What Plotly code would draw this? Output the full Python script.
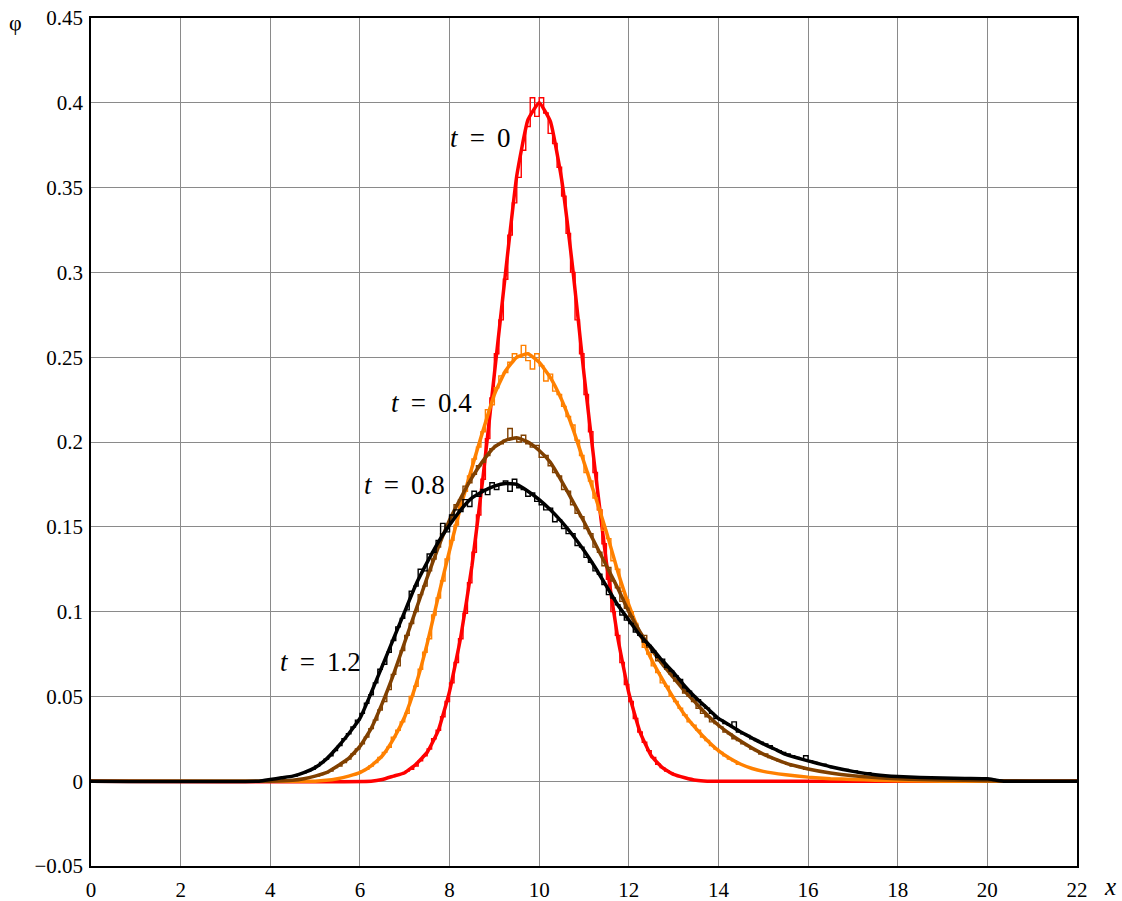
import plotly.graph_objects as go

# ---------------- smooth curves ----------------
red_x = [0, 6.25, 6.5, 6.75, 7.0, 7.25, 7.5, 7.75, 8.0, 8.25, 8.5, 8.75, 9.0, 9.25, 9.5, 9.75, 10.0,
         10.25, 10.5, 10.75, 11.0, 11.25, 11.5, 11.75, 12.0, 12.25, 12.5, 12.75, 13.0, 13.25, 13.5, 13.75, 22]
red_y = [0, 0.0, 0.001, 0.003, 0.005, 0.010, 0.017, 0.030, 0.053, 0.085, 0.127, 0.180, 0.240, 0.300, 0.357, 0.390, 0.400,
         0.389, 0.355, 0.302, 0.240, 0.183, 0.129, 0.085, 0.052, 0.029, 0.015, 0.008, 0.004, 0.002, 0.0005, 0.0, 0]

orange_x = [0, 5.0, 5.25, 5.5, 5.75, 6.0, 6.25, 6.5, 6.75, 7.0, 7.25, 7.5, 7.75, 8.0, 8.25, 8.5, 8.75, 9.0, 9.25,
            9.5, 9.75, 10.0, 10.25, 10.5, 10.75, 11.0, 11.25, 11.5, 11.75, 12.0, 12.25, 12.5, 12.75, 13.0, 13.25,
            13.5, 13.75, 14.0, 14.25, 14.5, 14.75, 15.0, 15.5, 16.0, 16.5, 17.0, 17.5, 18.0, 19.0, 22]
orange_y = [0, 0.0, 0.0005, 0.0015, 0.003, 0.005, 0.009, 0.015, 0.025, 0.038, 0.057, 0.081, 0.109, 0.136, 0.162, 0.185,
            0.207, 0.228, 0.242, 0.250, 0.252, 0.247, 0.238, 0.225, 0.208, 0.188, 0.168, 0.147, 0.124, 0.104, 0.087,
            0.072, 0.060, 0.049, 0.039, 0.031, 0.024, 0.018, 0.0135, 0.010, 0.0075, 0.0058, 0.0038, 0.0024, 0.0015,
            0.001, 0.0006, 0.0003, 0.0, 0]

brown_x = [0, 4.0, 4.5, 4.75, 5.0, 5.25, 5.5, 5.75, 6.0, 6.25, 6.5, 6.75, 7.0, 7.25, 7.5, 7.75, 8.0, 8.25, 8.5, 8.75,
           9.0, 9.25, 9.5, 9.75, 10.0, 10.25, 10.5, 10.75, 11.0, 11.25, 11.5, 11.75, 12.0, 12.25, 12.5, 12.75, 13.0,
           13.25, 13.5, 13.75, 14.0, 14.25, 14.5, 14.75, 15.0, 15.25, 15.5, 15.75, 16.0, 16.5, 17.0, 17.5, 18.0,
           18.5, 19.0, 20.0, 21.0, 22]
brown_y = [0, 0.0, 0.0006, 0.0015, 0.003, 0.005, 0.009, 0.0135, 0.0205, 0.031, 0.046, 0.063, 0.082, 0.101, 0.120, 0.138,
           0.154, 0.167, 0.179, 0.189, 0.197, 0.201, 0.2025, 0.200, 0.195, 0.188, 0.177, 0.165, 0.153, 0.140, 0.127,
           0.114, 0.100, 0.088, 0.078, 0.069, 0.061, 0.053, 0.046, 0.039, 0.033, 0.028, 0.0235, 0.0195, 0.016, 0.0132,
           0.0107, 0.0088, 0.0072, 0.0048, 0.0032, 0.0022, 0.0014, 0.001, 0.0007, 0.0003, 0.0, 0]

black_x = [0, 3.75, 4.0, 4.25, 4.5, 4.75, 5.0, 5.25, 5.5, 5.75, 6.0, 6.25, 6.5, 6.75, 7.0, 7.25, 7.5, 7.75, 8.0,
           8.25, 8.5, 8.75, 9.0, 9.25, 9.5, 9.75, 10.0, 10.25, 10.5, 10.75, 11.0, 11.25, 11.5, 11.75, 12.0, 12.25,
           12.5, 12.75, 13.0, 13.25, 13.5, 13.75, 14.0, 14.25, 14.5, 14.75, 15.0, 15.25, 15.5, 15.75, 16.0, 16.5,
           17.0, 17.5, 18.0, 18.5, 19.0, 19.5, 20.0, 20.2, 20.4, 22]
black_y = [0, 0.0, 0.001, 0.002, 0.003, 0.005, 0.008, 0.013, 0.020, 0.028, 0.037, 0.052, 0.068, 0.084, 0.100, 0.116,
           0.129, 0.141, 0.151, 0.160, 0.167, 0.171, 0.174, 0.1755, 0.175, 0.171, 0.166, 0.160, 0.153, 0.145, 0.136,
           0.126, 0.115, 0.104, 0.095, 0.086, 0.079, 0.071, 0.064, 0.056, 0.049, 0.043, 0.037, 0.033, 0.029, 0.0255,
           0.022, 0.019, 0.0158, 0.0138, 0.012, 0.0085, 0.0058, 0.0038, 0.0027, 0.0022, 0.0019, 0.0016, 0.0014,
           0.0006, 0.0, 0]

# ---------------- histograms (bin width 0.1) ----------------
BIN_W = 0.1
red_hist_start = 7.0
red_hist = [0.006, 0.007, 0.009, 0.012, 0.015, 0.019, 0.025, 0.030, 0.038, 0.047,
            0.058, 0.070, 0.084, 0.099, 0.117, 0.135, 0.157, 0.178, 0.202, 0.226,
            0.252, 0.272, 0.296, 0.322, 0.341, 0.356, 0.372, 0.386, 0.403, 0.392,
            0.403, 0.394, 0.382, 0.376, 0.362, 0.345, 0.323, 0.300, 0.272, 0.252,
            0.228, 0.206, 0.182, 0.160, 0.140, 0.119, 0.100, 0.086, 0.070, 0.057,
            0.047, 0.037, 0.029, 0.023, 0.018, 0.014, 0.010, 0.008, 0.006, 0.005]

orange_hist_start = 6.0
orange_hist = [0.006, 0.007, 0.009, 0.011, 0.014, 0.017, 0.020, 0.026, 0.030, 0.035,
               0.040, 0.050, 0.056, 0.066, 0.076, 0.084, 0.098, 0.108, 0.118, 0.131,
               0.142, 0.151, 0.163, 0.171, 0.180, 0.190, 0.197, 0.206, 0.219, 0.222,
               0.232, 0.239, 0.241, 0.247, 0.252, 0.250, 0.257, 0.248, 0.243, 0.252,
               0.245, 0.236, 0.240, 0.230, 0.228, 0.221, 0.215, 0.210, 0.201, 0.192,
               0.182, 0.177, 0.167, 0.160, 0.148, 0.143, 0.130, 0.125, 0.112, 0.107,
               0.100, 0.093, 0.087, 0.079, 0.075, 0.068, 0.064, 0.058, 0.056, 0.050,
               0.047, 0.043, 0.039, 0.035, 0.033, 0.030, 0.026, 0.024, 0.021, 0.019,
               0.017, 0.015, 0.013, 0.012, 0.010]

brown_hist_start = 5.0
brown_hist = [0.003, 0.004, 0.005, 0.006, 0.008, 0.009, 0.011, 0.013, 0.016, 0.019,
              0.022, 0.026, 0.031, 0.036, 0.042, 0.047, 0.054, 0.063, 0.068, 0.077,
              0.086, 0.093, 0.100, 0.110, 0.115, 0.124, 0.131, 0.138, 0.146, 0.151,
              0.156, 0.163, 0.166, 0.174, 0.176, 0.181, 0.186, 0.188, 0.192, 0.196,
              0.198, 0.199, 0.201, 0.208, 0.202, 0.200, 0.204, 0.199, 0.197, 0.198,
              0.191, 0.192, 0.186, 0.182, 0.180, 0.172, 0.171, 0.163, 0.158, 0.156,
              0.149, 0.146, 0.138, 0.135, 0.127, 0.126, 0.118, 0.114, 0.106, 0.102,
              0.097, 0.092, 0.087, 0.086, 0.079, 0.077, 0.071, 0.070, 0.066, 0.063,
              0.059, 0.058, 0.052, 0.050, 0.047, 0.043, 0.040, 0.038, 0.035, 0.034,
              0.032, 0.029, 0.028, 0.025, 0.024, 0.022, 0.021, 0.019, 0.018, 0.016,
              0.016, 0.014, 0.013, 0.012, 0.011, 0.010, 0.009, 0.009, 0.008, 0.007]

black_hist_start = 4.5
black_hist = [0.003, 0.004, 0.005, 0.006, 0.007, 0.009, 0.011, 0.013, 0.015, 0.018,
              0.021, 0.025, 0.028, 0.032, 0.036, 0.040, 0.046, 0.051, 0.058, 0.066,
              0.069, 0.076, 0.083, 0.091, 0.096, 0.101, 0.112, 0.115, 0.125, 0.124,
              0.134, 0.135, 0.142, 0.152, 0.147, 0.157, 0.160, 0.159, 0.166, 0.162,
              0.171, 0.168, 0.172, 0.169, 0.176, 0.172, 0.175, 0.177, 0.171, 0.178,
              0.173, 0.172, 0.168, 0.170, 0.165, 0.163, 0.160, 0.161, 0.153, 0.154,
              0.149, 0.146, 0.146, 0.139, 0.138, 0.132, 0.129, 0.124, 0.122, 0.116,
              0.110, 0.108, 0.104, 0.098, 0.095, 0.093, 0.088, 0.086, 0.082, 0.080,
              0.076, 0.073, 0.072, 0.067, 0.065, 0.062, 0.060, 0.055, 0.053, 0.050,
              0.048, 0.045, 0.043, 0.040, 0.037, 0.036, 0.034, 0.033, 0.035, 0.029,
              0.028, 0.027, 0.025, 0.024, 0.023, 0.022, 0.021, 0.019, 0.018, 0.017,
              0.016, 0.015, 0.014, 0.013, 0.015, 0.012, 0.011, 0.010, 0.010, 0.009,
              0.008, 0.008, 0.007, 0.007, 0.006, 0.006, 0.005, 0.005, 0.005, 0.004]

label_t = ["t", "t", "t", "t"]
label_val = ["0", "0.4", "0.8", "1.2"]
label_x = [7.97, 6.65, 6.05, 4.17]
label_y = [0.379, 0.223, 0.1745, 0.070]

x_ticks = list(range(0, 23, 2))
y_ticks = [-0.05, 0, 0.05, 0.1, 0.15, 0.2, 0.25, 0.3, 0.35, 0.4, 0.45]
y_ticktext = ["\u22120.05", "0", "0.05", "0.1", "0.15", "0.2", "0.25", "0.3", "0.35", "0.4", "0.45"]

RED = "#ff0000"
ORANGE = "#ff8000"
BROWN = "#804000"
BLACK = "#000000"
SERIF = "Liberation Serif"

fig = go.Figure()


def add_hist(start, vals, color):
    xs = [start + i * BIN_W for i in range(len(vals) + 1)]
    ys = list(vals) + [vals[-1]]
    fig.add_trace(go.Scatter(x=xs, y=ys, mode="lines", line=dict(color=color, width=1.4, shape="hv"),
                             hoverinfo="skip", showlegend=False))


def add_curve(xs, ys, color):
    fig.add_trace(go.Scatter(x=xs, y=ys, mode="lines",
                             line=dict(color=color, width=3.5, shape="spline", smoothing=0.4),
                             showlegend=False))


add_hist(red_hist_start, red_hist, RED)
add_curve(red_x, red_y, RED)
add_hist(orange_hist_start, orange_hist, ORANGE)
add_curve(orange_x, orange_y, ORANGE)
add_hist(brown_hist_start, brown_hist, BROWN)
add_curve(brown_x, brown_y, BROWN)
add_hist(black_hist_start, black_hist, BLACK)
add_curve(black_x, black_y, BLACK)

SP = "\u00a0\u2009"
for tt, vv, lx, ly in zip(label_t, label_val, label_x, label_y):
    fig.add_annotation(x=lx, y=ly, xref="x", yref="y", text="<i>" + tt + "</i>" + SP + "=" + SP + vv,
                       showarrow=False, xanchor="left", yanchor="middle",
                       font=dict(family=SERIF, size=27, color="black"))

W, H = 1122, 901
ML, MR, MT, MB = 91, 45, 18, 35
pw, ph = W - ML - MR, H - MT - MB


def px_to_paper(px, py):
    return (px - ML) / pw, 1 - (py - MT) / ph


ax_, ay_ = px_to_paper(15, 22)
fig.add_annotation(x=ax_, y=ay_, xref="paper", yref="paper", text="φ", showarrow=False,
                   xanchor="center", yanchor="middle", font=dict(family=SERIF, size=22, color="black"))
bx_, by_ = px_to_paper(1110, 886)
fig.add_annotation(x=bx_, y=by_, xref="paper", yref="paper", text="<i>x</i>", showarrow=False,
                   xanchor="center", yanchor="middle", font=dict(family=SERIF, size=25, color="black"))

fig.update_layout(
    width=W, height=H,
    margin=dict(l=ML, r=MR, t=MT, b=MB, pad=0, autoexpand=False),
    paper_bgcolor="white", plot_bgcolor="white",
    font=dict(family=SERIF, size=21, color="black"),
    xaxis=dict(range=[0, 22], tickvals=x_ticks, showgrid=True, gridcolor="#8a8a8a", gridwidth=1,
               zeroline=False, showline=True, linecolor="black", linewidth=1.5, mirror=True, automargin=False,
               ticks="", ticklabelstandoff=4, tickfont=dict(family=SERIF, size=21, color="black")),
    yaxis=dict(range=[-0.05, 0.45], tickvals=y_ticks, ticktext=y_ticktext, showgrid=True,
               gridcolor="#8a8a8a", gridwidth=1, zeroline=False, showline=True, linecolor="black",
               linewidth=1.5, mirror=True, automargin=False, ticks="", ticklabelstandoff=2,
               tickfont=dict(family=SERIF, size=21, color="black")),
)

fig.write_html("out.html")
